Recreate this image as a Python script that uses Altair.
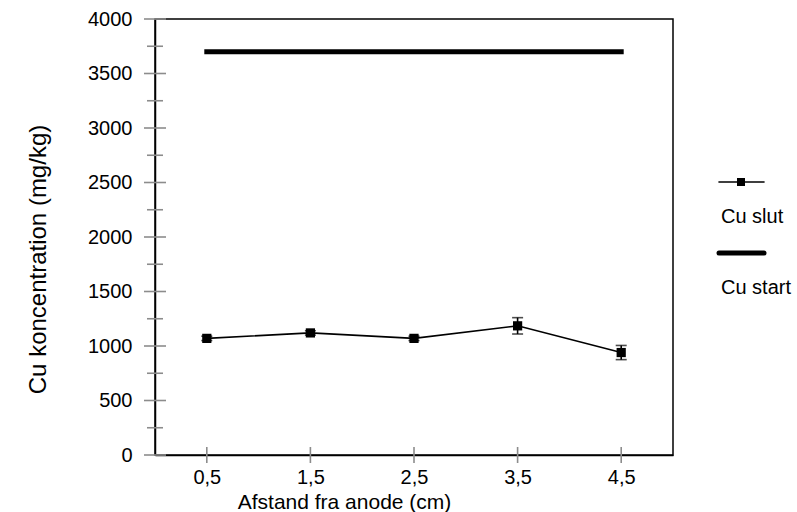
import altair as alt
import pandas as pd

# Measured Cu concentrations along the cell (distance from anode, cm)
distance = [0.5, 1.5, 2.5, 3.5, 4.5]
cu_slut = [1070, 1120, 1070, 1185, 940]
cu_slut_err = [20, 20, 20, 75, 65]

# Initial concentration, drawn across the same span
cu_start_x = [0.5, 4.5]
cu_start = [3700, 3700]

# Axis ticks
x_ticks = [0.5, 1.5, 2.5, 3.5, 4.5]
y_major = list(range(0, 4001, 500))
y_minor = list(range(250, 4000, 500))

series = ["Cu slut", "Cu start"]

FONT = "Liberation Sans"
TICK_GRAY = "#8c8c8c"
W, H = 518, 436

slut_df = pd.DataFrame({
    "x": distance,
    "y": cu_slut,
    "lo": [v - e for v, e in zip(cu_slut, cu_slut_err)],
    "hi": [v + e for v, e in zip(cu_slut, cu_slut_err)],
})
start_df = pd.DataFrame({"x": cu_start_x, "y": cu_start})
xt_df = pd.DataFrame({"v": x_ticks})
ymaj_df = pd.DataFrame({"v": y_major})
ymin_df = pd.DataFrame({"v": y_minor})
legend_df = pd.DataFrame({"series": series})

x_scale = alt.Scale(domain=[0, 5], nice=False, zero=False)
y_scale = alt.Scale(domain=[0, 4000], nice=False, zero=False)

x_axis = alt.Axis(
    values=x_ticks,
    labelExpr="replace(format(datum.value, '.1f'), '.', ',')",
    ticks=False, grid=False,
    domainColor="black", domainWidth=1.5,
    labelFontSize=20, labelColor="black", labelPadding=12,
    title="Afstand fra anode (cm)",
    titleFontSize=21, titleFontWeight="normal", titleColor="black",
    titleX=189, titleY=53, titleBaseline="alphabetic", titleAlign="center",
)
y_axis = alt.Axis(
    values=y_major, format="d",
    ticks=False, grid=False,
    domainColor="black", domainWidth=1.5,
    labelFontSize=20, labelColor="black", labelPadding=23,
    title="Cu koncentration (mg/kg)",
    titleFontSize=24, titleFontWeight="normal", titleColor="black",
    titleAngle=270, titleX=-110, titleY=240,
    titleBaseline="alphabetic", titleAlign="center",
)

base_x = alt.X("x:Q", scale=x_scale, axis=x_axis)
base_y = alt.Y("y:Q", scale=y_scale, axis=y_axis)

start_line = alt.Chart(start_df).mark_line(
    color="black", strokeWidth=5, strokeCap="square"
).encode(x=base_x, y=base_y)

slut_line = alt.Chart(slut_df).mark_line(
    color="black", strokeWidth=1.6
).encode(x=base_x, y=base_y)

slut_err = alt.Chart(slut_df).mark_rule(color="black", strokeWidth=1.6).encode(
    x=base_x, y=alt.Y("lo:Q", scale=y_scale, axis=y_axis), y2="hi:Q"
)
slut_caps_lo = alt.Chart(slut_df).mark_tick(
    color="black", thickness=1.6, size=11, orient="horizontal"
).encode(x=base_x, y=alt.Y("lo:Q", scale=y_scale, axis=y_axis))
slut_caps_hi = alt.Chart(slut_df).mark_tick(
    color="black", thickness=1.6, size=11, orient="horizontal"
).encode(x=base_x, y=alt.Y("hi:Q", scale=y_scale, axis=y_axis))

slut_pts = alt.Chart(slut_df).mark_point(
    shape="square", filled=True, size=85, color="black", opacity=1
).encode(x=base_x, y=base_y)

y_major_ticks = alt.Chart(ymaj_df).mark_rule(
    color=TICK_GRAY, strokeWidth=1.6
).encode(y=alt.Y("v:Q", scale=y_scale, axis=y_axis), x=alt.value(-11), x2=alt.value(11))

y_minor_ticks = alt.Chart(ymin_df).mark_rule(
    color=TICK_GRAY, strokeWidth=1.6
).encode(y=alt.Y("v:Q", scale=y_scale, axis=y_axis), x=alt.value(-8), x2=alt.value(8))

x_tick_marks = alt.Chart(xt_df).mark_rule(
    color=TICK_GRAY, strokeWidth=1.6
).encode(x=alt.X("v:Q", scale=x_scale, axis=x_axis), y=alt.value(H - 8), y2=alt.value(H + 8))


# Legend entries sit to the right of the plot, each label under its symbol
def legend_entry(name, sym_y, width, square):
    src = alt.Chart(legend_df).transform_filter(alt.datum.series == name)
    layers = [
        src.mark_rule(color="black", strokeWidth=width, strokeCap="round").encode(
            x=alt.value(564), x2=alt.value(609), y=alt.value(sym_y)
        ),
        src.mark_text(
            align="left", baseline="alphabetic", fontSize=20, color="black", font=FONT
        ).encode(x=alt.value(566), y=alt.value(sym_y + 41), text="series:N"),
    ]
    if square:
        layers.append(
            src.mark_point(shape="square", filled=True, size=64, color="black", opacity=1)
            .encode(x=alt.value(586), y=alt.value(sym_y))
        )
    return layers


chart = alt.layer(
    start_line, slut_line, slut_err, slut_caps_lo, slut_caps_hi, slut_pts,
    y_major_ticks, y_minor_ticks, x_tick_marks,
    *legend_entry("Cu slut", 163, 1.6, True),
    *legend_entry("Cu start", 234, 5, False),
).properties(
    width=W, height=H,
    autosize=alt.AutoSizeParams(type="none"),
    padding={"left": 155, "top": 19, "right": 124, "bottom": 57},
).configure(font=FONT).configure_view(
    stroke="black", strokeWidth=1.5
)

chart.save("out.html", embed_options={"renderer": "svg", "actions": False})
